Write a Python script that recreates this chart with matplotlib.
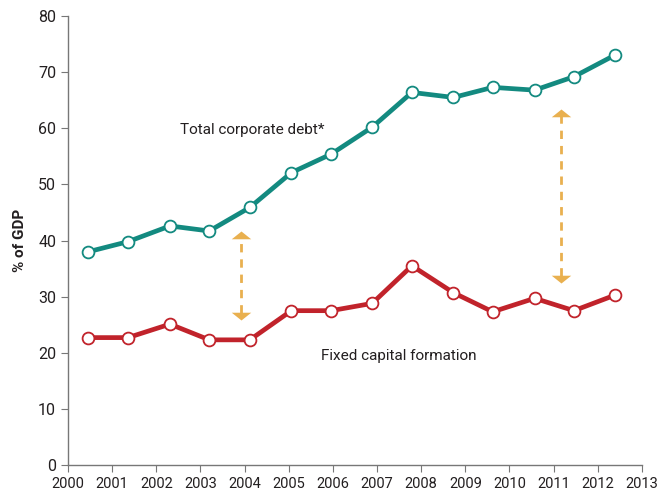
import matplotlib.pyplot as plt
from matplotlib.path import Path

plt.rcParams['font.family'] = ['Roboto', 'DejaVu Sans']

# positions of the points along the year axis
xpos = [2000.46, 2001.36, 2002.31, 2003.20, 2004.12, 2005.06, 2005.96,
        2006.89, 2007.79, 2008.73, 2009.62, 2010.57, 2011.46, 2012.40]
debt = [38.0, 39.8, 42.6, 41.7, 45.9, 52.1, 55.4,
        60.2, 66.4, 65.5, 67.3, 66.8, 69.2, 73.1]
capital = [22.7, 22.7, 25.1, 22.3, 22.3, 27.5, 27.5,
           28.8, 35.5, 30.7, 27.3, 29.7, 27.5, 30.3]
years = list(range(2000, 2014))
yticks = list(range(0, 90, 10))

# gap arrows: (x, bottom, top)
gaps = [(2003.92, 25.8, 41.7), (2011.16, 32.4, 63.5)]

teal = '#138a80'
red = '#c1232b'
gold = '#e9b04f'

# flat triangle heads with the tip on the point
head_up = Path([(-1, -0.8), (1, -0.8), (0, 0), (-1, -0.8)])
head_dn = Path([(-1, 0.8), (1, 0.8), (0, 0), (-1, 0.8)])

fig = plt.figure(figsize=(6.58, 5.01), dpi=100)
ax = fig.add_axes([0.1033, 0.0719, 0.8723, 0.896])

ax.plot(xpos, debt, color=teal, lw=3.4, marker='o', ms=8.5,
        mfc='white', mec=teal, mew=1.3, zorder=3)
ax.plot(xpos, capital, color=red, lw=3.4, marker='o', ms=8.5,
        mfc='white', mec=red, mew=1.3, zorder=3)

for gx, lo, hi in gaps:
    ax.plot([gx, gx], [lo + 1.3, hi - 1.3], color=gold, lw=2, ls=(0, (3, 2.5)), zorder=2)
    ax.plot([gx], [hi], marker=head_up, ms=14, color=gold, mew=0, zorder=2)
    ax.plot([gx], [lo], marker=head_dn, ms=14, color=gold, mew=0, zorder=2)

ax.text(2004.17, 59.7, 'Total corporate debt*', ha='center', va='center',
        fontsize=11, color='#231f20')
ax.text(2007.5, 19.4, 'Fixed capital formation', ha='center', va='center',
        fontsize=11, color='#231f20')

ax.set_xlim(2000, 2013)
ax.set_ylim(0, 80)
ax.set_xticks(years)
ax.set_yticks(yticks)
ax.tick_params(colors='#231f20', length=5, width=0.8, direction='out')
ax.tick_params(axis='both', color='#777777')
ax.tick_params(axis='x', labelsize=10.5)
ax.tick_params(axis='y', labelsize=11.5)
ax.set_ylabel('% of GDP', fontsize=11, fontweight='bold', color='#231f20', labelpad=8)

for s in ['top', 'right']:
    ax.spines[s].set_visible(False)
for s in ['left', 'bottom']:
    ax.spines[s].set_color('#777777')
    ax.spines[s].set_linewidth(1.0)

fig.savefig('out.png', dpi=100)
